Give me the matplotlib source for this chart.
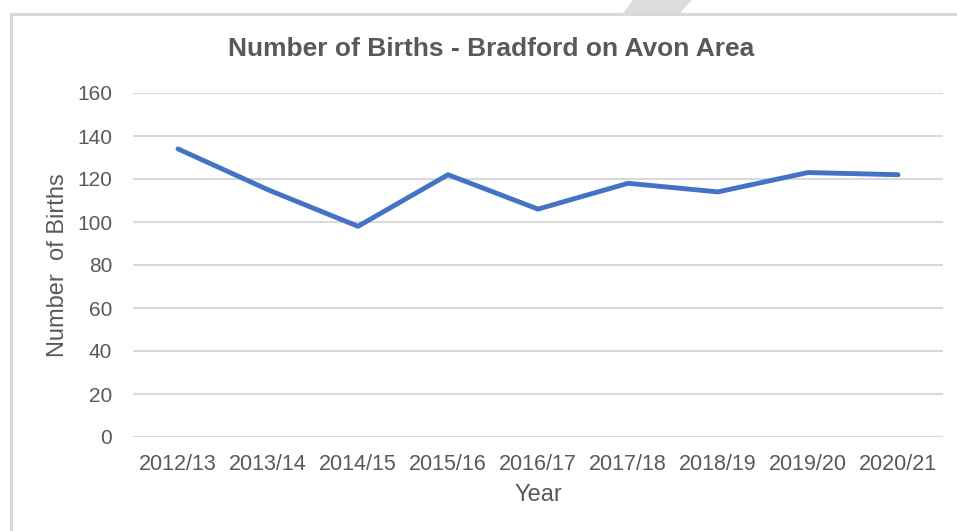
import matplotlib.pyplot as plt
from matplotlib.patches import Rectangle, Polygon

# data
years = ["2012/13", "2013/14", "2014/15", "2015/16", "2016/17",
         "2017/18", "2018/19", "2019/20", "2020/21"]
births = [134, 115, 98, 122, 106, 118, 114, 123, 122]
yticks = [0, 20, 40, 60, 80, 100, 120, 140, 160]

W, H = 957, 531
text_col = "#595959"
grid_col = "#D9D9D9"
line_col = "#4472C4"

plt.rcParams['font.family'] = ['Liberation Sans', 'DejaVu Sans']

fig = plt.figure(figsize=(W / 100, H / 100), dpi=100)

# chart frame and the grey stripe at the top
fig.patches.append(Rectangle((11 / W, -0.1), 1.0, (H - 14) / H + 0.1,
                             transform=fig.transFigure, fill=False,
                             edgecolor=grid_col, linewidth=2.2, zorder=0))
fig.patches.append(Polygon([(633 / W, 1.0), (692 / W, 1.0),
                            (680 / W, (H - 13) / H), (623 / W, (H - 13) / H)],
                           closed=True, transform=fig.transFigure,
                           facecolor="#DCDCDC", edgecolor="none", zorder=0))

ax = fig.add_axes([133 / W, (H - 437) / H, (943 - 133) / W, (437 - 93) / H])
x = list(range(len(years)))
ax.plot(x, births, color=line_col, linewidth=3.5, solid_capstyle="round",
        solid_joinstyle="round", zorder=3)

ax.set_xlim(-0.5, len(years) - 0.5)
ax.set_ylim(0, 160)
ax.set_yticks(yticks)
ax.set_xticks(x)
ax.set_xticklabels(years)
ax.grid(axis="y", color=grid_col, linewidth=1.5)
ax.set_axisbelow(True)
for s in ax.spines.values():
    s.set_visible(False)
ax.tick_params(length=0, labelcolor=text_col)
ax.tick_params(axis="y", pad=15, labelsize=15)
ax.tick_params(axis="x", pad=12, labelsize=15.5)

ax.set_xlabel("Year", fontsize=17, color=text_col, labelpad=7)
ax.set_ylabel("Number  of Births", fontsize=17, color=text_col, labelpad=6)
fig.text(491 / W, (H - 49) / H, "Number of Births - Bradford on Avon Area",
         fontsize=19, fontweight="bold", color=text_col,
         ha="center", va="center")

fig.savefig("out.png", dpi=100)
